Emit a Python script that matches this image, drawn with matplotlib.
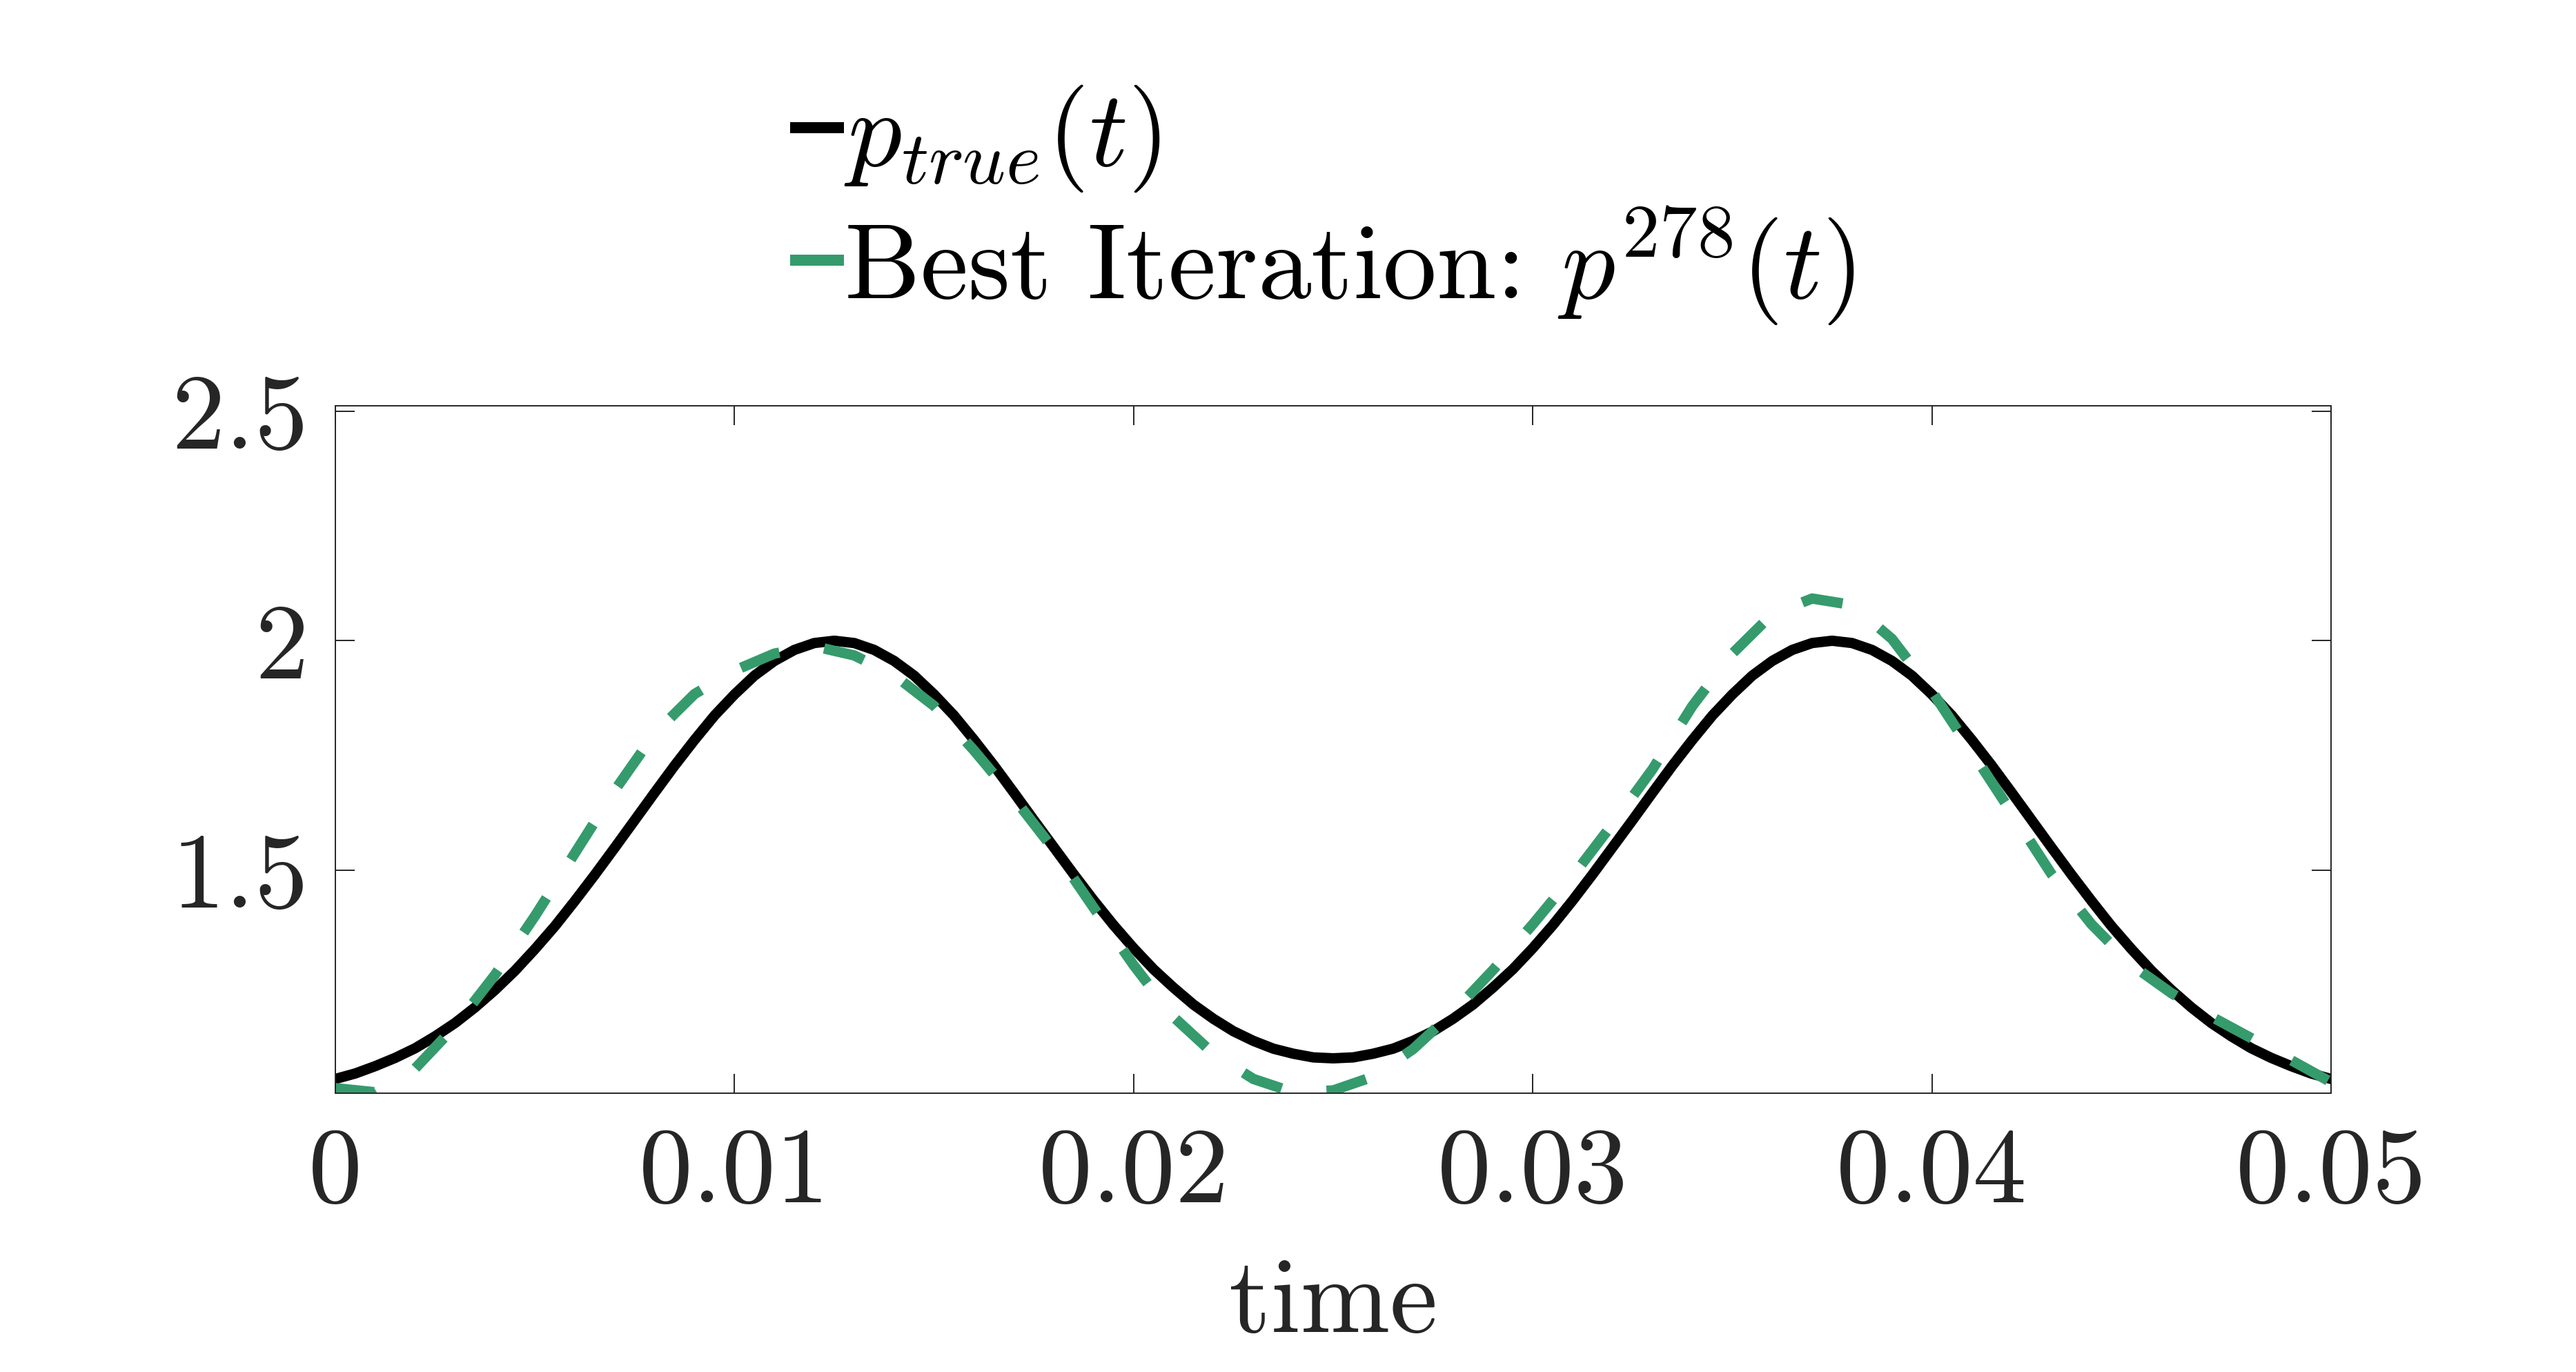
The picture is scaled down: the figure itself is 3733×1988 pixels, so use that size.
import numpy as np
import matplotlib
matplotlib.use("Agg")
import matplotlib.pyplot as plt

plt.rcParams['font.family'] = 'serif'
plt.rcParams['font.serif'] = ['cmr10', 'DejaVu Serif']
plt.rcParams['mathtext.fontset'] = 'cm'
plt.rcParams['axes.unicode_minus'] = False
plt.rcParams['axes.formatter.use_mathtext'] = True

# ---- data ----
t_true = [0.0000, 0.0005, 0.0010, 0.0015, 0.0020, 0.0025, 0.0030, 0.0035, 0.0040, 0.0045,
          0.0050, 0.0055, 0.0060, 0.0065, 0.0070, 0.0075, 0.0080, 0.0085, 0.0090, 0.0095,
          0.0100, 0.0105, 0.0110, 0.0115, 0.0120, 0.0125, 0.0130, 0.0135, 0.0140, 0.0145,
          0.0150, 0.0155, 0.0160, 0.0165, 0.0170, 0.0175, 0.0180, 0.0185, 0.0190, 0.0195,
          0.0200, 0.0205, 0.0210, 0.0215, 0.0220, 0.0225, 0.0230, 0.0235, 0.0240, 0.0245,
          0.0250, 0.0255, 0.0260, 0.0265, 0.0270, 0.0275, 0.0280, 0.0285, 0.0290, 0.0295,
          0.0300, 0.0305, 0.0310, 0.0315, 0.0320, 0.0325, 0.0330, 0.0335, 0.0340, 0.0345,
          0.0350, 0.0355, 0.0360, 0.0365, 0.0370, 0.0375, 0.0380, 0.0385, 0.0390, 0.0395,
          0.0400, 0.0405, 0.0410, 0.0415, 0.0420, 0.0425, 0.0430, 0.0435, 0.0440, 0.0445,
          0.0450, 0.0455, 0.0460, 0.0465, 0.0470, 0.0475, 0.0480, 0.0485, 0.0490, 0.0495,
          0.0500]
p_true = [1.045, 1.057, 1.073, 1.091, 1.112, 1.138, 1.167, 1.201, 1.239, 1.281,
          1.328, 1.378, 1.433, 1.490, 1.549, 1.609, 1.669, 1.728, 1.784, 1.837,
          1.883, 1.924, 1.956, 1.980, 1.995, 2.000, 1.995, 1.980, 1.956, 1.924,
          1.883, 1.837, 1.784, 1.728, 1.669, 1.609, 1.550, 1.491, 1.434, 1.380,
          1.330, 1.284, 1.244, 1.207, 1.176, 1.149, 1.128, 1.111, 1.100, 1.092,
          1.090, 1.092, 1.100, 1.111, 1.128, 1.149, 1.176, 1.207, 1.244, 1.284,
          1.330, 1.380, 1.434, 1.491, 1.550, 1.609, 1.669, 1.728, 1.784, 1.837,
          1.883, 1.924, 1.956, 1.980, 1.995, 2.000, 1.995, 1.980, 1.956, 1.924,
          1.883, 1.837, 1.784, 1.728, 1.669, 1.609, 1.549, 1.490, 1.433, 1.378,
          1.328, 1.281, 1.239, 1.201, 1.167, 1.138, 1.112, 1.091, 1.073, 1.057,
          1.045]

t_best = [0.000, 0.001, 0.002, 0.003, 0.004, 0.005, 0.006, 0.007, 0.008, 0.009,
          0.010, 0.011, 0.012, 0.013, 0.014, 0.015, 0.016, 0.017, 0.018, 0.019,
          0.020, 0.021, 0.022, 0.023, 0.024, 0.025, 0.026, 0.027, 0.028, 0.029,
          0.030, 0.031, 0.032, 0.033, 0.034, 0.035, 0.036, 0.037, 0.038, 0.039,
          0.040, 0.041, 0.042, 0.043, 0.044, 0.045, 0.046, 0.047, 0.048, 0.049,
          0.050]
p_best = [1.025, 1.016, 1.068, 1.160, 1.272, 1.400, 1.537, 1.674, 1.798, 1.884,
          1.935, 1.972, 1.988, 1.968, 1.925, 1.858, 1.761, 1.657, 1.545, 1.418,
          1.293, 1.180, 1.100, 1.045, 1.016, 1.020, 1.050, 1.110, 1.190, 1.282,
          1.382, 1.487, 1.601, 1.720, 1.858, 1.972, 2.058, 2.092, 2.078, 2.004,
          1.890, 1.758, 1.625, 1.491, 1.382, 1.294, 1.232, 1.181, 1.134, 1.086,
          1.038]

x_ticks = [0, 0.01, 0.02, 0.03, 0.04, 0.05]
x_tick_labels = ['0', '0.01', '0.02', '0.03', '0.04', '0.05']
y_ticks = [1.5, 2.0, 2.5]
y_tick_labels = ['1.5', '2', '2.5']

label_true = r'$p_{true}(t)$'
label_best = r'Best Iteration: $p^{278}(t)$'

GREEN = '#359B6C'
GRAY = '#262626'
DPI = 200
FS = 56

fig = plt.figure(figsize=(3733 / DPI, 1988 / DPI), dpi=DPI)
ax = fig.add_axes([486 / 3733, 1 - 1584 / 1988, (3378 - 486) / 3733, (1584 - 588) / 1988])

lw = 15 * 72 / DPI
ax.plot(t_true, p_true, color='black', lw=lw, solid_joinstyle='round', label=label_true)
ax.plot(t_best, p_best, color=GREEN, lw=lw, linestyle=(0, (4.0, 4.4)),
        dash_capstyle='butt', label=label_best)

ax.set_xlim(0, 0.05)
ax.set_ylim(1.014, 2.512)
ax.set_xticks(x_ticks)
ax.set_xticklabels(x_tick_labels)
ax.set_yticks(y_ticks)
ax.set_yticklabels(y_tick_labels)
ax.tick_params(axis='both', direction='in', length=10, width=0.7, colors=GRAY,
               labelsize=FS, top=True, right=True)
ax.tick_params(axis='x', pad=18)
ax.tick_params(axis='y', pad=14)
for s in ax.spines.values():
    s.set_linewidth(0.7)
    s.set_color(GRAY)

ax.set_xlabel('time', fontsize=FS, color=GRAY, labelpad=18)

leg = fig.legend(loc='center left', bbox_to_anchor=(1153 / 3733, 1 - 297 / 1988),
                 frameon=False, fontsize=FS, handlelength=0.4, handletextpad=0.05,
                 borderpad=0, borderaxespad=0, labelspacing=0.1)
for h in leg.get_lines():
    h.set_linewidth(16 * 72 / DPI)
    h.set_linestyle('-')

fig.savefig('out.png', dpi=DPI)
